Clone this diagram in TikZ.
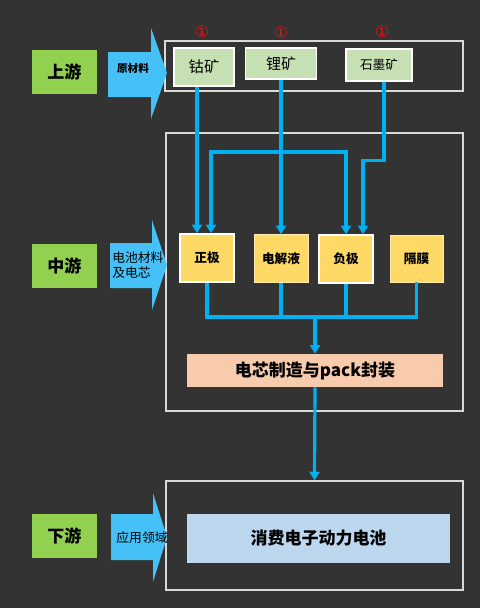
\documentclass[tikz,border=0pt]{standalone}
\usepackage{fontspec}
\setmainfont{Noto Sans CJK SC}
\newfontfamily\symfont{DejaVu Sans}
\usepackage{tikz}
\usetikzlibrary{calc,arrows.meta}
\definecolor{bgc}{HTML}{333333}
\definecolor{stagegreen}{HTML}{92D050}
\definecolor{arrowblue}{HTML}{45C1F8}
\definecolor{linkblue}{HTML}{00B0F0}
\definecolor{orefill}{HTML}{C6E0B4}
\definecolor{partfill}{HTML}{FFD966}
\definecolor{cellfill}{HTML}{F8CBAD}
\definecolor{appfill}{HTML}{BDD7EE}
\definecolor{framecol}{HTML}{D9D9D9}
\definecolor{tagred}{HTML}{F01010}
\tikzset{
  font={\fontsize{9.6pt}{11.5pt}\selectfont},
  stage/.style={fill=stagegreen,inner sep=0pt,minimum width=48.75pt,minimum height=33pt,
    font={\fontsize{12.75pt}{14pt}\selectfont\bfseries}},
  ore/.style={fill=orefill,draw=white,line width=1.1pt,inner sep=0pt},
  oretag/.style={text=tagred,font={\symfont\fontsize{12pt}{13pt}\selectfont}},
  part/.style={fill=partfill,inner sep=0pt,minimum width=40.5pt,minimum height=36pt,
    font={\fontsize{9.5pt}{11pt}\selectfont\bfseries}},
  stageframe/.style={draw=framecol,line width=0.9pt,inner sep=0pt},
  feed/.style={draw=linkblue,line width=2.4pt},
  feedarrow/.style={feed,-{Triangle[width=7.5pt,length=6.5pt]}}}

\begin{document}
\begin{tikzpicture}[x=0.75pt,y=-0.75pt]
\fill[bgc] (0,0) rectangle (480,608);
\node[stageframe,minimum width=223.5pt,minimum height=37.5pt] (oreframe) at (314,66) {};
\node[stageframe,minimum width=222.75pt,minimum height=208.5pt] (partframe) at (314.5,272) {};
\node[stageframe,minimum width=222.75pt,minimum height=81.75pt] (appframe) at (314.5,535.5) {};
\node[stage] (up) at (64.5,72) {上游};
\node[stage] (mid) at (64.5,266) {中游};
\node[stage] (down) at (64.5,536) {下游};
\fill[arrowblue] (108,52) -- (151,52) -- (151,28) -- (167,73) -- (151,119) -- (151,97) -- (108,97) -- cycle;
\fill[arrowblue] (110,243) -- (152,243) -- (152,220) -- (167,265) -- (152,310) -- (152,288) -- (110,288) -- cycle;
\fill[arrowblue] (111,514) -- (153,514) -- (153,493) -- (167,537) -- (153,582) -- (153,560) -- (111,560) -- cycle;
\node[font={\fontsize{8pt}{9pt}\selectfont\bfseries}] (rawtext) at (133,68) {原材料};
\node[anchor=west,align=left,inner sep=0pt] (midtext) at (112,265) {电池材料\\及电芯};
\node[inner sep=0pt] (apptext) at (142,538) {应用领域};
\node[ore,minimum width=45pt,minimum height=28.5pt,font={\fontsize{11.5pt}{13pt}\selectfont}] (cobalt) at (204,67) {钴矿};
\node[ore,minimum width=53.25pt,minimum height=23.25pt,font={\fontsize{11.25pt}{13pt}\selectfont}] (lithium) at (281,63.5) {锂矿};
\node[ore,minimum width=49.5pt,minimum height=24pt,font={\fontsize{9.5pt}{11pt}\selectfont}] (graphite) at (379,65) {石墨矿};
\node[oretag] (tag1) at (202,32) {①};
\node[oretag] (tag2) at (281,33) {①};
\node[oretag] (tag3) at (382,32) {①};
\node[part,draw=white,line width=1.1pt] (cathode) at (207,258) {正极};
\node[part,draw=partfill!50!white,line width=0.5pt] (electrolyte) at (281,258.5) {电解液};
\node[part,draw=white,line width=1.1pt] (anode) at (346,259) {负极};
\node[part,draw=partfill!50!white,line width=0.5pt,minimum width=39.75pt,minimum height=35.25pt] (separator) at (416.5,258.5) {隔膜};
\node[fill=cellfill,minimum width=192pt,minimum height=24.75pt,font={\fontsize{12.75pt}{14pt}\selectfont\bfseries}] (cell) at (315,370.5) {电芯制造与pack封装};
\node[fill=appfill,minimum width=197.25pt,minimum height=36.75pt,font={\fontsize{12.75pt}{14pt}\selectfont\bfseries}] (app) at (318.5,538.5) {消费电子动力电池};
\coordinate (split) at (281,152);
\coordinate (bus) at (315,317);
\draw[feedarrow] ($(cobalt.south)+(-7,0)$) -- ($(cathode.north)+(-10,0)$);
\draw[feedarrow] (lithium.south) -- (electrolyte.north);
\draw[feedarrow] (split) -| ($(cathode.north)+(4,0)$);
\draw[feedarrow] (split) -| (anode.north);
\draw[feedarrow] ($(graphite.south)+(5,0)$) -- ++(0,79) -| ($(anode.north)+(17,0)$);
\draw[feed] (cathode.south) |- (bus) -| (separator.south);
\draw[feed] (electrolyte.south) -- (electrolyte.south |- bus);
\draw[feed] (anode.south) -- (anode.south |- bus);
\draw[feedarrow] (bus) -- (cell.north);
\draw[feedarrow] (cell.south) -- (appframe.north);
\end{tikzpicture}
\end{document}
